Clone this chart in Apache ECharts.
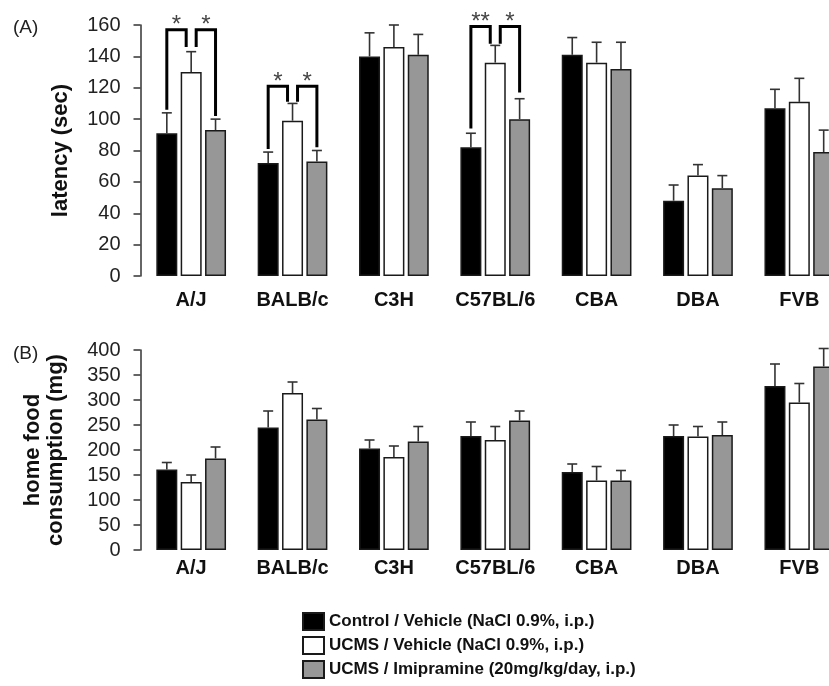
<!DOCTYPE html>
<html>
<head>
<meta charset="utf-8">
<script src="https://cdn.jsdelivr.net/npm/echarts@6/dist/echarts.min.js"></script>
<style>
  html, body { margin: 0; padding: 0; background: #fff; }
</style>
</head>
<body>
<div id="main" style="width: 829px;height:686px;"></div>
<script type="text/javascript">
    // strains (x categories)
    var strains = ['A/J', 'BALB/c', 'C3H', 'C57BL/6', 'CBA', 'DBA', 'FVB'];
    var groups = ['Control / Vehicle (NaCl 0.9%, i.p.)', 'UCMS / Vehicle (NaCl 0.9%, i.p.)', 'UCMS / Imipramine (20mg/kg/day, i.p.)'];

    // (A) latency (sec)
    var latCtrl = [91, 72, 140, 82, 141, 48, 107];
    var latUcms = [130, 99, 146, 136, 136, 64, 111];
    var latImi = [93, 73, 141, 100, 132, 56, 79];
    var latCtrlSem = [13, 7, 15, 9, 11, 10, 12];
    var latUcmsSem = [13, 11, 14, 11, 13, 7, 15];
    var latImiSem = [7, 7, 13, 13, 17, 8, 14];

    // (B) home food consumption (mg)
    var foodCtrl = [161, 245, 203, 228, 156, 228, 328];
    var foodUcms = [136, 314, 186, 220, 139, 227, 295];
    var foodImi = [183, 261, 217, 259, 139, 230, 367];
    var foodCtrlSem = [14, 33, 17, 28, 16, 22, 44];
    var foodUcmsSem = [14, 22, 22, 27, 28, 20, 38];
    var foodImiSem = [23, 22, 30, 19, 20, 26, 36];

    // significance brackets on (A): [strain, fromBar, toBar, leftLegBottom, rightLegBottom, top]
    var brackets = [
        [0, 0, 1, 106, 146, 157],
        [0, 1, 2, 146, 102, 157],
        [1, 0, 1, 81, 111, 121],
        [1, 1, 2, 111, 82, 121],
        [3, 0, 1, 94, 148, 159],
        [3, 1, 2, 148, 117, 159]
    ];
    var bracketStars = ['*', '*', '*', '*', '**', '*'];

    var FONT = '"Liberation Sans", Arial, sans-serif';
    var BAR_W = 21;
    var STEP = BAR_W * 1.16;
    var colors = ['#000000', '#ffffff', '#979797'];

    function errData(means, sems, s) {
        return means.map(function (m, i) { return [i, s, m + sems[i], m]; });
    }

    function renderErr(params, api) {
        var cat = api.value(0), s = api.value(1);
        var base = api.coord([cat, api.value(3)]);
        var top = api.coord([cat, api.value(2)]);
        var x = base[0] + (s - 1) * STEP;
        var st = { stroke: '#333', lineWidth: 1.6 };
        return {
            type: 'group',
            children: [
                { type: 'line', shape: { x1: x, y1: base[1], x2: x, y2: top[1] }, style: st },
                { type: 'line', shape: { x1: x - 5, y1: top[1], x2: x + 5, y2: top[1] }, style: st }
            ]
        };
    }

    function legX(cat, idx, left, api) {
        var c = api.coord([cat, 0])[0] + (idx - 1) * STEP;
        if (idx === 1) c += left ? 5 : -5;
        return c;
    }

    function renderBracket(params, api) {
        var cat = api.value(0);
        var xl = legX(cat, api.value(1), true, api);
        var xr = legX(cat, api.value(2), false, api);
        var yl = api.coord([cat, api.value(3)])[1];
        var yr = api.coord([cat, api.value(4)])[1];
        var yt = api.coord([cat, api.value(5)])[1];
        return {
            type: 'group',
            children: [
                { type: 'polyline', shape: { points: [[xl, yl], [xl, yt], [xr, yt], [xr, yr]] },
                  style: { stroke: '#000', lineWidth: 3, fill: null, lineJoin: 'miter' } },
                { type: 'text', x: (xl + xr) / 2, y: yt - 4,
                  style: { text: bracketStars[params.dataIndex], fill: '#444', font: '24px ' + FONT,
                           textAlign: 'center', textVerticalAlign: 'middle' } }
            ]
        };
    }

    function barSeries(name, data, i, axis) {
        return {
            name: name, type: 'bar', data: data,
            xAxisIndex: axis, yAxisIndex: axis,
            barWidth: BAR_W, barGap: '16%',
            itemStyle: { color: colors[i], borderColor: '#1a1a1a', borderWidth: 1.5 },
            silent: true
        };
    }

    function errSeries(data, axis) {
        return { type: 'custom', xAxisIndex: axis, yAxisIndex: axis, data: data,
                 renderItem: renderErr, silent: true, z: 3 };
    }

    var xAxisBase = function (idx, margin) {
        return {
            type: 'category', gridIndex: idx, data: strains,
            axisLine: { show: false }, axisTick: { show: false },
            axisLabel: { interval: 0, fontFamily: FONT, fontSize: 20, fontWeight: 'bold', color: '#111', margin: margin }
        };
    };
    var yAxisBase = function (idx, max, interval, name, gap) {
        return {
            type: 'value', gridIndex: idx, min: 0, max: max, interval: interval,
            name: name, nameLocation: 'middle', nameGap: gap,
            nameTextStyle: { fontFamily: FONT, fontSize: 22, fontWeight: 'bold', color: '#111', lineHeight: 23 },
            axisLine: { show: true, lineStyle: { color: '#333', width: 1.5 } },
            axisTick: { show: true, length: 7, lineStyle: { color: '#333', width: 1.5 } },
            splitLine: { show: false },
            axisLabel: { fontFamily: FONT, fontSize: 20, color: '#222', margin: 20 }
        };
    };

    var myChart = echarts.init(document.getElementById('main'));
    var option = {
        animation: false,
        backgroundColor: '#fff',
        title: [
            { text: '(A)', left: 8, top: 13, textStyle: { fontFamily: FONT, fontSize: 19, fontWeight: 'normal', color: '#222' } },
            { text: '(B)', left: 8, top: 339, textStyle: { fontFamily: FONT, fontSize: 19, fontWeight: 'normal', color: '#222' } }
        ],
        legend: {
            data: groups, orient: 'vertical', left: 297, top: 607, height: 120,
            itemWidth: 21, itemHeight: 17, itemGap: 5,
            icon: 'rect', selectedMode: false,
            textStyle: { fontFamily: FONT, fontSize: 17, fontWeight: 'bold', color: '#111' }
        },
        // the figure is cropped at the right edge, so the plot runs past the canvas
        grid: [
            { left: 140.5, right: -21, top: 25, height: 251, outerBoundsMode: 'none', containLabel: false },
            { left: 140.5, right: -21, top: 350, height: 200, outerBoundsMode: 'none', containLabel: false }
        ],
        xAxis: [xAxisBase(0, 14), xAxisBase(1, 8)],
        yAxis: [
            yAxisBase(0, 160, 20, 'latency (sec)', 68),
            yAxisBase(1, 400, 50, 'home food\nconsumption (mg)', 73)
        ],
        series: [
            barSeries(groups[0], latCtrl, 0, 0),
            barSeries(groups[1], latUcms, 1, 0),
            barSeries(groups[2], latImi, 2, 0),
            errSeries(errData(latCtrl, latCtrlSem, 0).concat(errData(latUcms, latUcmsSem, 1), errData(latImi, latImiSem, 2)), 0),
            { type: 'custom', xAxisIndex: 0, yAxisIndex: 0, data: brackets, renderItem: renderBracket, silent: true, z: 4 },
            barSeries(groups[0], foodCtrl, 0, 1),
            barSeries(groups[1], foodUcms, 1, 1),
            barSeries(groups[2], foodImi, 2, 1),
            errSeries(errData(foodCtrl, foodCtrlSem, 0).concat(errData(foodUcms, foodUcmsSem, 1), errData(foodImi, foodImiSem, 2)), 1)
        ]
    };
    myChart.setOption(option);
</script>
</body>
</html>
